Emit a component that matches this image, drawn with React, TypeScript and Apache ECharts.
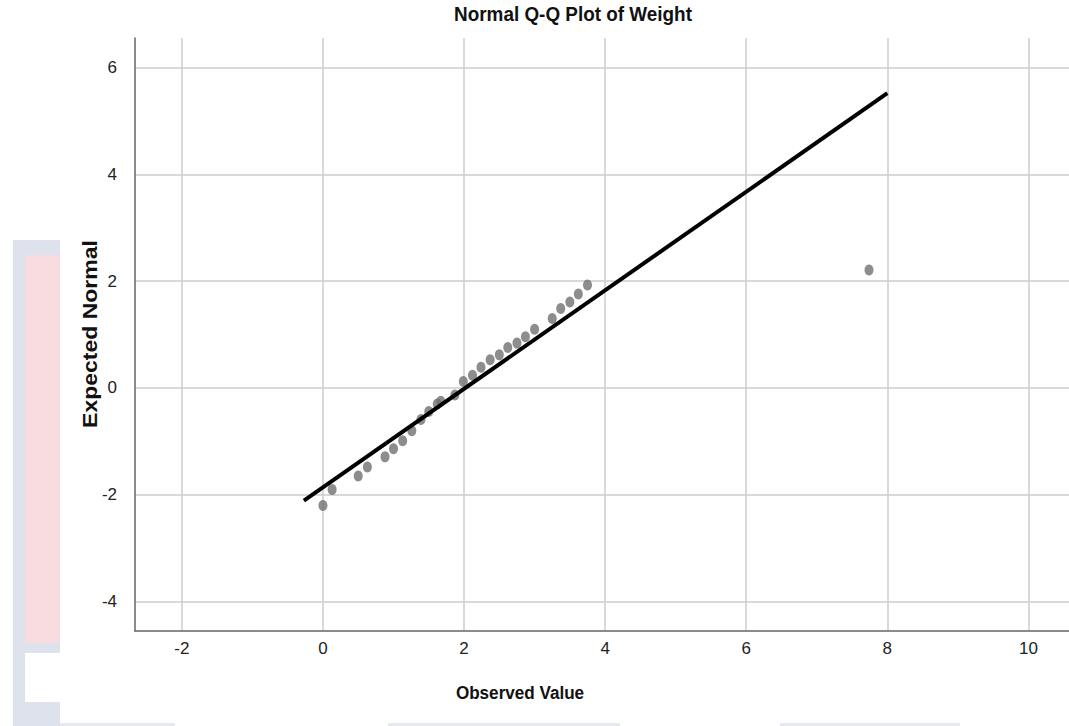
import React, { useEffect, useRef } from "react";
import * as echarts from "echarts";

const observed = [0.0, 0.13, 0.5, 0.63, 0.88, 1.0, 1.13, 1.26, 1.39, 1.5, 1.62, 1.67, 1.87, 1.99, 2.12, 2.24, 2.37, 2.5, 2.62, 2.75, 2.87, 3.0, 3.25, 3.37, 3.5, 3.62, 3.75, 7.74];
const expected = [-2.2, -1.9, -1.65, -1.48, -1.29, -1.14, -0.99, -0.8, -0.59, -0.44, -0.3, -0.25, -0.13, 0.12, 0.24, 0.39, 0.53, 0.62, 0.76, 0.84, 0.96, 1.1, 1.3, 1.49, 1.61, 1.76, 1.93, 2.21];
const refLineX = [-0.27, 8.0];
const refLineY = [-2.11, 5.52];

const titleText = "Normal Q-Q Plot of Weight";
const xName = "Observed Value";
const yName = "Expected Normal";

const tickFont = "'Liberation Sans Narrow', 'Arial Narrow', 'Liberation Sans', sans-serif";
const headFont = "'Liberation Sans', Arial, sans-serif";

export default function App() {
  const ref = useRef<HTMLDivElement>(null);
  useEffect(() => {
    if (!ref.current) return;
    const chart = echarts.init(ref.current, undefined, { renderer: "svg" });
    const axisCommon = {
      type: "value" as const,
      axisLine: { onZero: false, lineStyle: { color: "#666666", width: 1.5 } },
      axisTick: { show: false },
      splitLine: {
        show: true,
        showMinLine: false,
        showMaxLine: false,
        lineStyle: { color: "#cdcdcd", width: 1.5 },
      },
    };
    chart.setOption({
      animation: false,
      backgroundColor: "#ffffff",
      grid: { left: 135, top: 38, width: 964, height: 593 },
      xAxis: {
        ...axisCommon,
        min: -2.664,
        max: 11,
        splitNumber: 7,
        axisLabel: {
          showMinLabel: false,
          showMaxLabel: false,
          margin: 9,
          fontSize: 17,
          color: "#222",
          fontFamily: tickFont,
        },
      },
      yAxis: {
        ...axisCommon,
        min: -4.551,
        max: 6.554,
        splitNumber: 5,
        axisLabel: {
          showMinLabel: false,
          showMaxLabel: false,
          margin: 18,
          fontSize: 17,
          color: "#222",
          fontFamily: tickFont,
        },
      },
      graphic: [
        { type: "rect", silent: true, z: -10, shape: { x: 13, y: 240, width: 47, height: 486 }, style: { fill: "#dde2ec" } },
        { type: "rect", silent: true, z: -9, shape: { x: 25, y: 255, width: 35, height: 388 }, style: { fill: "#f8dde0" } },
        { type: "rect", silent: true, z: -9, shape: { x: 25, y: 653, width: 35, height: 49 }, style: { fill: "#ffffff" } },
        { type: "rect", silent: true, z: -9, shape: { x: 60, y: 723, width: 115, height: 3 }, style: { fill: "#e8e8f1" } },
        { type: "rect", silent: true, z: -9, shape: { x: 388, y: 723, width: 232, height: 3 }, style: { fill: "#e8e8f1" } },
        { type: "rect", silent: true, z: -9, shape: { x: 780, y: 723, width: 180, height: 3 }, style: { fill: "#e8e8f1" } },
        {
          type: "text",
          x: 573,
          y: 14,
          scaleX: 0.9,
          style: { text: titleText, font: `bold 21px ${headFont}`, fill: "#111", textAlign: "center", textVerticalAlign: "middle" },
        },
        {
          type: "text",
          x: 520,
          y: 693,
          scaleX: 0.9,
          style: { text: xName, font: `bold 19px ${headFont}`, fill: "#111", textAlign: "center", textVerticalAlign: "middle" },
        },
        {
          type: "text",
          x: 90,
          y: 334,
          rotation: Math.PI / 2,
          scaleY: 0.9,
          style: { text: yName, font: `bold 23px ${headFont}`, fill: "#111", textAlign: "center", textVerticalAlign: "middle" },
        },
      ],
      series: [
        {
          type: "scatter",
          data: observed.map((x, i) => [x, expected[i]]),
          symbol: "circle",
          symbolSize: [9, 11],
          itemStyle: { color: "#717171" },
          z: 2,
        },
        {
          type: "line",
          data: refLineX.map((x, i) => [x, refLineY[i]]),
          symbol: "none",
          lineStyle: { color: "#000000", width: 4 },
          z: 3,
        },
      ],
    });
    return () => chart.dispose();
  }, []);
  return (
    <div
      ref={ref}
      style={{ position: "fixed", left: 0, top: 0, width: 1110, height: 726 }}
    />
  );
}
